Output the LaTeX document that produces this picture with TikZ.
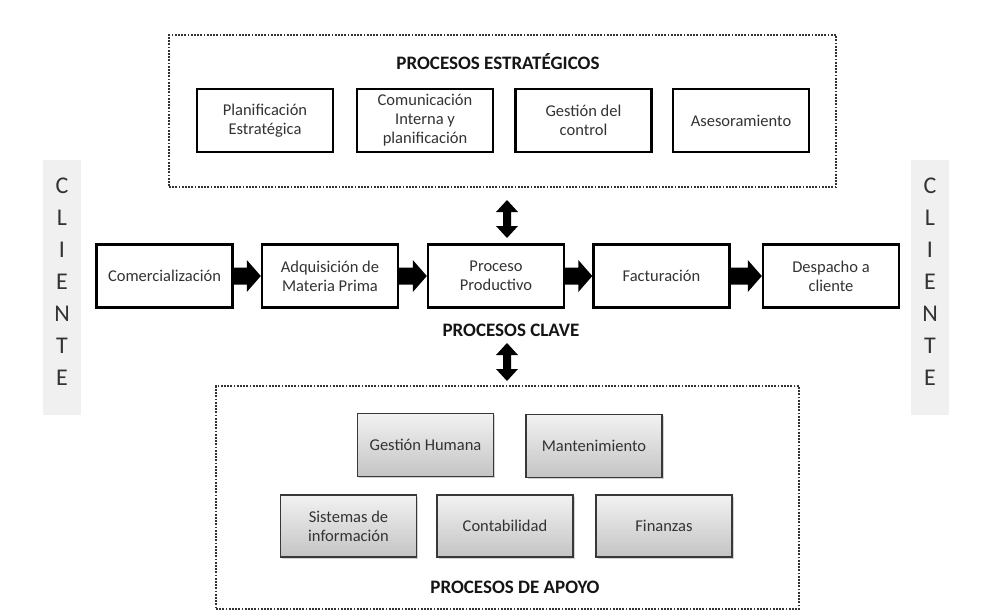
\documentclass[tikz,border=0pt]{standalone}
\usepackage{fontspec}
\setmainfont{Carlito}
\usetikzlibrary{calc,shadows}
\definecolor{txt}{HTML}{333333}
\definecolor{ttl}{HTML}{151515}
\definecolor{band}{HTML}{F0F0F0}
\definecolor{dotc}{HTML}{333333}
\definecolor{gtop}{HTML}{F2F2F2}
\definecolor{gbot}{HTML}{C4C4C4}
\newcommand\blkarrow[2]{%
  \fill ($(#1.east)+(0,-8.5)$) -- ($(#2.west)+(-14,-8.5)$) -- ($(#2.west)+(-14,-16)$) -- (#2.west)
     -- ($(#2.west)+(-14,16)$) -- ($(#2.west)+(-14,8.5)$) -- ($(#1.east)+(0,8.5)$) -- cycle;}
\newcommand\dblarrow[2]{%
  \fill (#1) -- ($(#1)+(11,12)$) -- ($(#1)+(4,12)$) -- ($(#2)+(4,-12)$) -- ($(#2)+(11,-12)$) -- (#2)
     -- ($(#2)+(-11,-12)$) -- ($(#2)+(-4,-12)$) -- ($(#1)+(-4,12)$) -- ($(#1)+(-11,12)$) -- cycle;}
\begin{document}
\begin{tikzpicture}[x=1pt,y=-1pt,
  boxtext/.style={align=center, text=txt, font=\fontsize{16.5}{19}\selectfont, inner sep=0pt},
  wbox/.style={boxtext, draw=black, line width=2.4pt, fill=white, minimum width=136pt, minimum height=63pt},
  gbox/.style={boxtext, draw=black!78, line width=1.8pt, top color=gtop, bottom color=gbot,
    minimum width=136pt, minimum height=63pt,
    drop shadow={opacity=0.35, shadow xshift=1.5pt, shadow yshift=-1.5pt}},
  frame/.style={draw=dotc, line width=2.3pt, dash pattern=on 1.8pt off 1.4pt, inner sep=0pt},
  title/.style={text=ttl, font=\fontsize{19}{22}\selectfont\bfseries},
  band/.style={fill=band, minimum width=38pt, minimum height=255pt, inner sep=0pt},
  letters/.style={align=center, text=txt, font=\fontsize{24}{32}\selectfont, inner sep=0pt}]
\useasboundingbox[fill=white] (0,0) rectangle (990,614);

% client bands
\node[band] (bandL) at (62,287.5) {};
\node[band] (bandR) at (930,287.5) {};
\node[letters] (cliL) at (62,282) {C\\L\\I\\E\\N\\T\\E};
\node[letters] (cliR) at (930,282) {C\\L\\I\\E\\N\\T\\E};

% strategic processes
\node[frame, minimum width=667pt, minimum height=152pt] (fE) at (502.5,111) {};
\node[title] (tE) at (498,62) {PROCESOS ESTRATÉGICOS};
\node[wbox] (e1) at (265,120.5) {Planificación\\Estratégica};
\node[wbox] (e2) at (425,120.5) {Comunicación\\Interna y\\planificación};
\node[wbox] (e3) at (583.5,120.5) {Gestión del\\control};
\node[wbox] (e4) at (741,120.5) {Asesoramiento};

% key processes
\node[wbox] (k1) at (164.5,276) {Comercialización};
\node[wbox] (k2) at (330,276) {Adquisición de\\Materia Prima};
\node[wbox] (k3) at (496,276) {Proceso\\Productivo};
\node[wbox] (k4) at (661.5,276) {Facturación};
\node[wbox] (k5) at (831,276) {Despacho a\\cliente};
\node[title] (tK) at (511,330) {PROCESOS CLAVE};
\blkarrow{k1}{k2}
\blkarrow{k2}{k3}
\blkarrow{k3}{k4}
\blkarrow{k4}{k5}

% support processes
\node[frame, minimum width=583pt, minimum height=223pt] (fA) at (507.5,497.5) {};
\node[gbox] (a1) at (425.5,445) {Gestión Humana};
\node[gbox] (a2) at (594,446) {Mantenimiento};
\node[gbox, minimum height=62pt] (a3) at (348.5,526) {Sistemas de\\información};
\node[gbox, minimum height=62pt] (a4) at (505,526) {Contabilidad};
\node[gbox, minimum height=62pt] (a5) at (664,526) {Finanzas};
\node[title] (tA) at (515,587) {PROCESOS DE APOYO};

% double arrows
\coordinate (u1) at (507,200);
\coordinate (u2) at (507,238);
\coordinate (d1) at (507,343);
\coordinate (d2) at (507,381);
\dblarrow{u1}{u2}
\dblarrow{d1}{d2}
\end{tikzpicture}
\end{document}
